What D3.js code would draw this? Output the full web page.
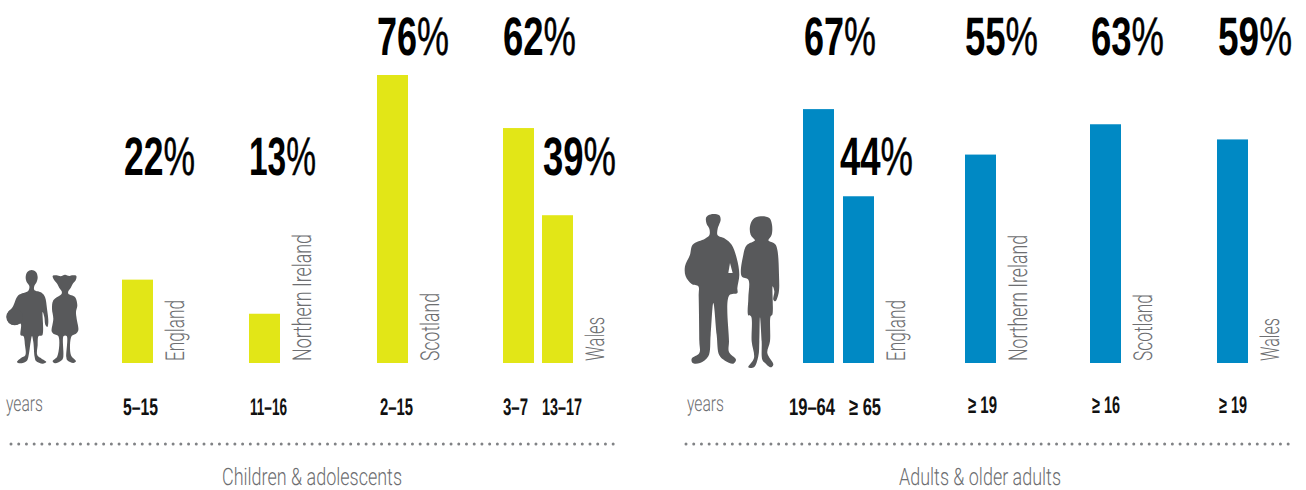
<!DOCTYPE html>
<html>
<head>
<meta charset="utf-8">
<script src="https://cdn.jsdelivr.net/npm/d3@7"></script>
<style>
  html, body { margin: 0; padding: 0; background: #fff; }
  svg { display: block; }
  text { font-family: Roboto, "Liberation Sans", sans-serif; text-rendering: geometricPrecision; }
  .pct { font-family: "Liberation Sans", sans-serif; font-weight: 700; fill: #000; }
  .pct tspan { font-weight: 400; stroke: #000; stroke-width: 0.5; }
  .age { font-family: "Liberation Sans", sans-serif; font-weight: 700; fill: #111; }
  .thin { font-weight: 300; fill: #6d6e71; }
</style>
</head>
<body>
<svg id="chart" width="1306" height="490"></svg>
<script>
// values
var barIds = ["c-eng", "c-ni", "c-sco", "c-wal1", "c-wal2", "a-eng1", "a-eng2", "a-ni", "a-sco", "a-wal"];
var barValues = [22, 13, 76, 62, 39, 67, 44, 55, 63, 59];
var barAges = ["5–15", "11–16", "2–15", "3–7", "13–17", "19–64", "≥ 65", "≥ 19", "≥ 16", "≥ 19"];
var nations = ["England", "Northern Ireland", "Scotland", "Wales", "England", "Northern Ireland", "Scotland", "Wales"];
var nationBars = ["c-eng", "c-ni", "c-sco", "c-wal2", "a-eng2", "a-ni", "a-sco", "a-wal"];
var groupNames = ["Children & adolescents", "Adults & older adults"];

var yellow = "#e2e617", blue = "#0089c4", grey = "#58595b";

var svg = d3.select("#chart");

var x = d3.scaleOrdinal()
  .domain(barIds)
  .range([122, 249, 377, 503, 542, 803, 843, 965, 1090, 1217]);

var y = d3.scaleLinear().domain([0, 76]).range([363, 75]);

var barWidth = 31;

// squeeze a text to a given width, the condensed face is not installed
function condense(sel, left, base, width, angle) {
  sel.each(function(d, i) {
    var k = width(d, i) / this.getComputedTextLength();
    d3.select(this).attr("transform",
      "translate(" + left(d, i) + "," + base(d, i) + ")" +
      (angle ? " rotate(" + angle + ")" : "") +
      " scale(" + k + ",1)");
  });
}

// bars
svg.selectAll(".bar")
  .data(barIds)
  .enter().append("rect")
    .attr("class", "bar")
    .attr("x", function(d) { return x(d); })
    .attr("width", barWidth)
    .attr("y", function(d, i) { return y(barValues[i]); })
    .attr("height", function(d, i) { return y(0) - y(barValues[i]); })
    .attr("fill", function(d) { return d.charAt(0) == "c" ? yellow : blue; });

// percent labels, two rows
var pctWidth = [71, 67, 72, 73, 73, 72, 73, 73, 73, 74];
var pctShift = [2, 0, 0, 0, 1, 1, -3, 0, 1, 1];

var pct = svg.selectAll(".pct")
  .data(barIds)
  .enter().append("text")
    .attr("class", "pct")
    .attr("font-size", 54)
    .text(function(d, i) { return barValues[i]; });

pct.append("tspan").text("%");

condense(pct,
  function(d, i) { return x(d) + pctShift[i]; },
  function(d, i) { return barValues[i] >= 55 ? 55 : 175; },
  function(d, i) { return pctWidth[i]; });

// age ranges under the bars
var ageLeft = [123, 250, 380, 503, 542, 789, 849, 968, 1092, 1219];
var ageWidth = [35, 37, 33, 25, 40, 46, 32, 29, 28, 28];

var age = svg.selectAll(".age")
  .data(barIds)
  .enter().append("text")
    .attr("class", "age")
    .attr("font-size", 24)
    .text(function(d, i) { return barAges[i]; });

condense(age,
  function(d, i) { return ageLeft[i]; },
  function(d, i) { return i > 6 ? 412.5 : 414.5; },
  function(d, i) { return ageWidth[i]; });

// rotated nation names next to the bars
var nationLength = [61, 127, 68, 44, 61, 126, 67, 43];
var nation = svg.selectAll(".nation")
  .data(nations)
  .enter().append("text")
    .attr("class", "nation thin")
    .attr("font-size", 26)
    .text(function(d) { return d; });

condense(nation,
  function(d, i) { return x(nationBars[i]) + barWidth + 31; },
  function(d, i) { return y(0) - 2; },
  function(d, i) { return nationLength[i]; },
  -90);

// "years" labels
var yearsLeft = [6, 687];
var years = svg.selectAll(".years")
  .data(yearsLeft)
  .enter().append("text")
    .attr("class", "years thin")
    .attr("font-size", 22)
    .text("years");

condense(years,
  function(d) { return d; },
  function() { return 411; },
  function() { return 37; });

// dotted rules
var ruleStart = [11, 686], ruleEnd = [615, 1294];
svg.selectAll(".rule")
  .data(groupNames)
  .enter().append("line")
    .attr("x1", function(d, i) { return ruleStart[i]; })
    .attr("x2", function(d, i) { return ruleEnd[i]; })
    .attr("y1", 444).attr("y2", 444)
    .attr("stroke", "#808285")
    .attr("stroke-width", 3)
    .attr("stroke-linecap", "round")
    .attr("stroke-dasharray", "0 7.72");

// group titles
var titleLeft = [222, 899], titleWidth = [180, 162];
var title = svg.selectAll(".title")
  .data(groupNames)
  .enter().append("text")
    .attr("class", "title thin")
    .attr("font-size", 24)
    .text(function(d) { return d; });

condense(title,
  function(d, i) { return titleLeft[i]; },
  function() { return 484.5; },
  function(d, i) { return titleWidth[i]; });

// silhouettes, outlines traced at 3x
var outline = d3.line().curve(d3.curveCatmullRomClosed.alpha(0.5));

var boy = [[95,24],[108,30],[113,45],[110,60],[103,72],[103,84],[125,92],[135,105],[141,140],[145,180],[142,195],[136,188],[133,165],[128,150],[127,220],[116,222],[113,250],[112,280],[125,290],[139,300],[128,305],[108,297],[104,285],[100,240],[96,222],[92,240],[85,285],[80,297],[60,304],[51,300],[63,288],[76,280],[75,250],[70,222],[62,220],[62,185],[45,189],[28,183],[20,165],[25,150],[38,135],[55,100],[85,86],[88,72],[80,60],[77,45],[82,30]];
var girl = [[195,38],[208,42],[218,40],[229,42],[227,55],[218,66],[212,78],[205,88],[205,95],[225,105],[232,130],[228,150],[230,170],[235,205],[228,215],[215,222],[213,280],[228,298],[220,303],[202,295],[199,285],[200,222],[191,222],[190,285],[185,295],[165,304],[158,298],[172,283],[175,222],[160,215],[155,208],[160,170],[156,140],[160,115],[185,95],[185,88],[178,78],[172,66],[163,55],[158,42],[170,40],[182,43]];
var man = [[100,18],[118,22],[122,35],[118,48],[113,62],[113,82],[135,92],[155,110],[170,150],[178,200],[172,240],[172,255],[148,262],[147,400],[147,432],[168,455],[160,467],[135,458],[118,442],[110,380],[100,285],[92,380],[85,445],[60,465],[38,465],[35,452],[58,435],[58,400],[56,262],[55,235],[35,228],[17,205],[15,175],[30,140],[38,110],[75,92],[88,82],[88,62],[80,48],[78,30],[85,22]];
var armGap = [[150,165],[158,195],[145,195]];
var woman = [[242,25],[268,30],[276,50],[275,80],[265,97],[268,100],[285,108],[292,125],[297,200],[296,255],[286,280],[280,275],[283,250],[278,235],[277,320],[272,325],[270,400],[262,435],[280,470],[272,478],[255,465],[247,455],[245,400],[240,328],[238,400],[235,445],[222,478],[205,478],[222,450],[215,400],[213,325],[205,322],[205,270],[205,215],[185,205],[190,140],[200,112],[222,100],[225,97],[212,80],[210,55],[220,33]];

var kids = svg.append("g").attr("transform", "translate(0,262) scale(0.3333)");
var grown = svg.append("g").attr("transform", "translate(680,208) scale(0.3333)");

kids.selectAll("path")
  .data([boy, girl])
  .enter().append("path")
    .attr("d", outline)
    .attr("fill", grey);

// the ball under the boy's arm
kids.append("circle")
  .attr("cx", 44).attr("cy", 165).attr("r", 25)
  .attr("fill", grey);

grown.selectAll("path")
  .data([man, woman])
  .enter().append("path")
    .attr("d", outline)
    .attr("fill", grey);

grown.append("path")
  .attr("d", d3.line()(armGap) + "Z")
  .attr("fill", "#fff");
</script>
</body>
</html>
